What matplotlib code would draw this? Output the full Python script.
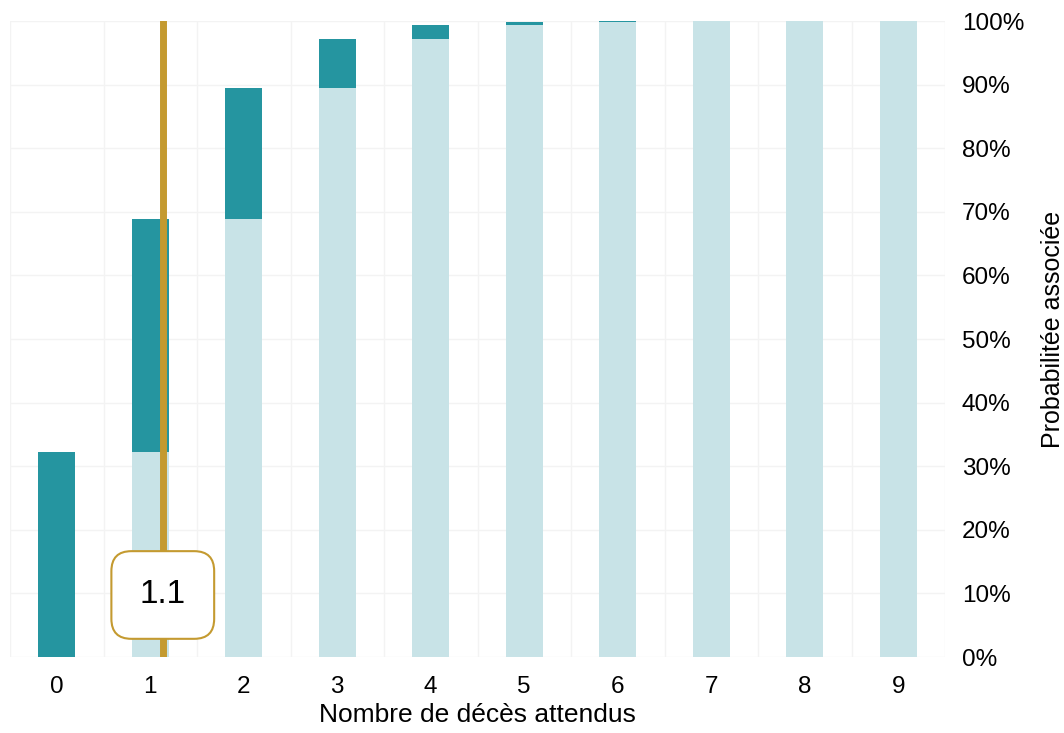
import numpy as np
import matplotlib.pyplot as plt

# valeurs (probabilité cumulée)
k_vals = [0, 1, 2, 3, 4, 5, 6, 7, 8, 9]
cumul = [0.323, 0.688, 0.894, 0.972, 0.994, 0.999, 0.9999, 1.0, 1.0, 1.0]
lambda_val = 1.134
lambda_label = "1.1"
y_ticks = [0, 0.1, 0.2, 0.3, 0.4, 0.5, 0.6, 0.7, 0.8, 0.9, 1.0]

plt.rcParams['font.family'] = ['Liberation Sans', 'DejaVu Sans']

dark = '#2595a0'
light = '#c8e3e7'
gold = '#c49a30'

fig = plt.figure(figsize=(10.64, 7.33), dpi=100)
ax = fig.add_axes([10 / 1064, 76 / 733, 935 / 1064, 636 / 733])

prev = [0.0] + cumul[:-1]
prob = [c - p for c, p in zip(cumul, prev)]

# barre claire = cumul précédent, barre foncée = probabilité du point
ax.bar(k_vals, prev, width=0.4, color=light, zorder=2)
ax.bar(k_vals, prob, bottom=prev, width=0.4, color=dark, zorder=2)

# ligne verticale de la moyenne
ax.axvline(lambda_val, color=gold, linewidth=5, zorder=3)
ax.text(lambda_val, 0.0975, lambda_label, ha='center', va='center', fontsize=24,
        zorder=4,
        bbox=dict(boxstyle='round,pad=0.85,rounding_size=0.6', facecolor='white',
                  edgecolor=gold, linewidth=1.5))

ax.set_xlim(-0.5, 9.5)
ax.set_ylim(0, 1)
ax.set_xticks(k_vals)
ax.set_xticks(np.arange(-0.5, 10, 1), minor=True)
ax.set_yticks(y_ticks)
ax.set_yticklabels([f"{int(round(t * 100))}%" for t in y_ticks])
ax.yaxis.tick_right()
ax.yaxis.set_label_position('right')

ax.grid(True, which='minor', axis='x', color='#f3f3f3', linewidth=1, zorder=0)
ax.grid(True, which='major', axis='y', color='#f3f3f3', linewidth=1, zorder=0)
ax.tick_params(axis='both', which='both', length=0, labelsize=17.5)
ax.tick_params(axis='x', pad=14)
ax.tick_params(axis='y', pad=12)
for s in ax.spines.values():
    s.set_visible(False)

ax.set_xlabel("Nombre de décès attendus", fontsize=19, labelpad=3)
ax.set_ylabel("Probabilitée associée", fontsize=18, labelpad=12)
ax.yaxis.label.set_y(0.515)

fig.savefig('out.png', dpi=100)
